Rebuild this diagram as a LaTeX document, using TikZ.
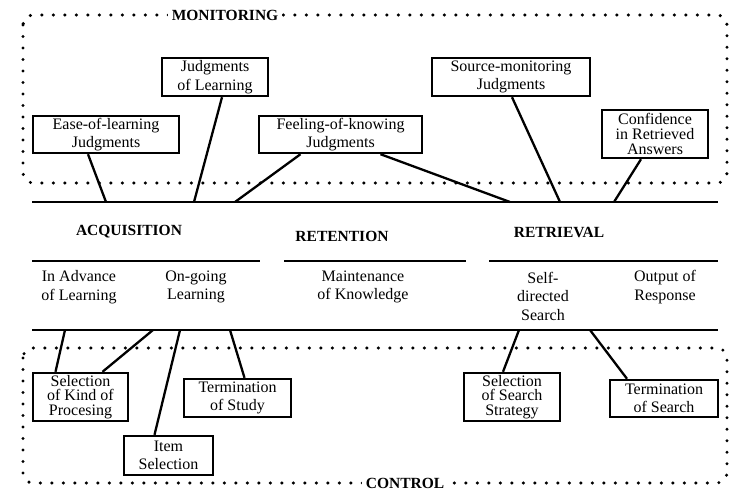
\documentclass[tikz,border=0pt]{standalone}
\usepackage{fontspec}
\setmainfont{Liberation Serif}
\begin{document}
\begin{tikzpicture}[x=1pt,y=-1pt,
  box/.style={draw, line width=2.4pt, align=center, inner sep=0pt, font=\fontsize{16}{18.5}\selectfont},
  box3/.style={box, font=\fontsize{16}{14.8}\selectfont},
  conn/.style={line width=2.3pt},
  rulel/.style={line width=2.7pt},
  dotframe/.style={line width=3.4pt, dash pattern=on 0pt off 11.5pt, line cap=round, rounded corners=10pt},
  head/.style={font=\fontsize{15.5}{17}\selectfont\bfseries, inner sep=0pt},
  lbl/.style={align=center, font=\fontsize{16}{18.5}\selectfont, inner sep=0pt}
]
\useasboundingbox (0,0) rectangle (751,500);

% frames
\draw[dotframe] (23,15) rectangle (727,183);
\node[head, fill=white, inner xsep=4pt, inner ysep=2pt] (mon) at (225,15) {MONITORING};
\draw[dotframe] (23,348) rectangle (727,483);
\node[head, fill=white, inner xsep=4pt, inner ysep=2pt] (ctl) at (405,483) {CONTROL};

% main rules
\coordinate (tl) at (32,202); \coordinate (tr) at (718,202);
\coordinate (bl) at (32,330); \coordinate (br) at (718,330);
\draw[rulel] (tl) -- (tr);
\draw[rulel] (bl) -- (br);

% stage rules
\coordinate (a1) at (32,261); \coordinate (a2) at (260,261);
\coordinate (r1) at (284,261); \coordinate (r2) at (466,261);
\coordinate (t1) at (489,261); \coordinate (t2) at (718,261);
\draw[rulel] (a1) -- (a2);
\draw[rulel] (r1) -- (r2);
\draw[rulel] (t1) -- (t2);

% headings
\node[head] (acq) at (129,232) {ACQUISITION};
\node[head] (ret) at (342,236) {RETENTION};
\node[head] (rtr) at (559,232) {RETRIEVAL};

% sub labels
\node[lbl] (adv) at (79,287) {In Advance\\of Learning};
\node[lbl] (ong) at (196,287) {On-going\\Learning};
\node[lbl] (mnt) at (363,287) {Maintenance\\of Knowledge};
\node[lbl] (sds) at (543,296) {Self-\\directed\\Search};
\node[lbl] (out) at (665,287) {Output of\\Response};

% monitoring boxes
\node[box, minimum width=146, minimum height=37] (eol) at (106,134.5) {Ease-of-learning\\Judgments};
\node[box, minimum width=106, minimum height=38] (jol) at (215,77) {Judgments\\of Learning};
\node[box, minimum width=163, minimum height=37] (fok) at (340.5,134.5) {Feeling-of-knowing\\Judgments};
\node[box, minimum width=158, minimum height=38] (smj) at (511,77) {Source-monitoring\\Judgments};
\node[box3, minimum width=106, minimum height=48] (conf) at (655,134) {Confidence\\in Retrieved\\Answers};

% control boxes
\node[box3, minimum width=95, minimum height=48] (sel) at (80.5,397) {Selection\\of Kind of\\Procesing};
\node[box, minimum width=89, minimum height=39] (item) at (168.5,455.5) {Item\\Selection};
\node[box, minimum width=107, minimum height=38] (term) at (237.5,398) {Termination\\of Study};
\node[box3, minimum width=96, minimum height=48] (sss) at (512,397) {Selection\\of Search\\Strategy};
\node[box, minimum width=108, minimum height=37] (tos) at (664,398.5) {Termination\\of Search};

% connector ends on rules
\coordinate (m1) at (106,202); \coordinate (m2) at (194,202);
\coordinate (m3) at (235,202); \coordinate (m4) at (510,202);
\coordinate (m5) at (560,202); \coordinate (m6) at (614,202);
\coordinate (c1) at (65,330); \coordinate (c2) at (153,330);
\coordinate (c3) at (180,330); \coordinate (c4) at (230,330);
\coordinate (c5) at (519,330); \coordinate (c6) at (590,330);

% monitoring connectors
\draw[conn] ([xshift=-18pt]eol.south) -- (m1);
\draw[conn] ([xshift=7pt]jol.south) -- (m2);
\draw[conn] ([xshift=-40pt]fok.south) -- (m3);
\draw[conn] ([xshift=40pt]fok.south) -- (m4);
\draw[conn] ([xshift=1pt]smj.south) -- (m5);
\draw[conn] ([xshift=-14pt]conf.south) -- (m6);

% control connectors
\draw[conn] ([xshift=-25pt]sel.north) -- (c1);
\draw[conn] ([xshift=22pt]sel.north) -- (c2);
\draw[conn] ([xshift=-14pt]item.north) -- (c3);
\draw[conn] ([xshift=7pt]term.north) -- (c4);
\draw[conn] ([xshift=-9pt]sss.north) -- (c5);
\draw[conn] ([xshift=-37pt]tos.north) -- (c6);
\end{tikzpicture}
\end{document}
